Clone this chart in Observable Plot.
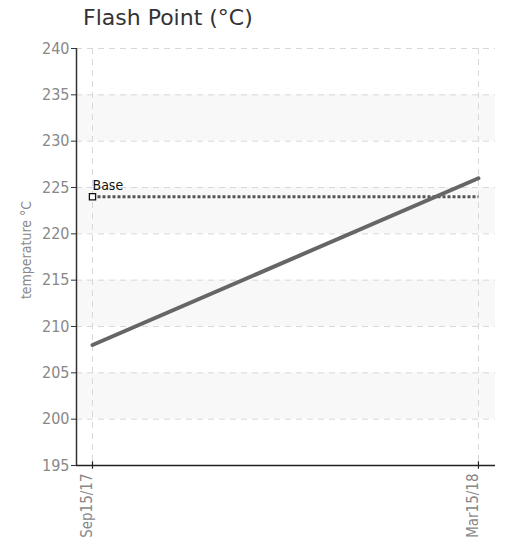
<!DOCTYPE html>
<html><head><meta charset="utf-8">
<script src="https://cdn.jsdelivr.net/npm/d3@7"></script>
<script src="https://cdn.jsdelivr.net/npm/@observablehq/plot@0.6"></script>
<style>
body{margin:0;background:#fff;}
#wrap{position:relative;width:508px;height:545px;}
#title{position:absolute;left:83px;top:5px;font-family:"DejaVu Sans",sans-serif;font-size:22px;color:#333;white-space:nowrap;}
svg text{font-family:"DejaVu Sans Condensed","DejaVu Sans",sans-serif;font-stretch:condensed;}
</style></head>
<body><div id="wrap"><div id="title">Flash Point (°C)</div></div>
<script>
const dates = ["2017-09-15","2018-03-15"];
const dateLabels = ["Sep15/17","Mar15/18"];
const values = [208, 226];
const baseValue = 224;
const baseLabel = "Base";
const yTicks = [195,200,205,210,215,220,225,230,235,240];
const bands = [[230,235],[220,225],[210,215],[200,205]];

const parse = d3.utcParse("%Y-%m-%d");
const xDates = dates.map(parse);
const series = xDates.map((d,i)=>({date:d, value:values[i]}));
const baseRows = xDates.map(d=>({date:d, value:baseValue}));
const bandRows = bands.map(([a,b])=>({y1:a,y2:b}));
const day = 864e5;
const x0 = new Date(xDates[0]-7.5*day), x1 = new Date(+xDates[1]+8*day);
const chart = Plot.plot({
  width:508, height:545,
  marginTop:48, marginBottom:80, marginLeft:76, marginRight:13,
  style:{background:"#fff"},
  x:{type:"utc", domain:[x0, x1], axis:null},
  y:{domain:[195,240], axis:null},
  marks:[
    Plot.rectY(bandRows,{y1:"y1",y2:"y2",fill:"#f8f8f8"}),
    Plot.gridY(yTicks,{stroke:"#d8d8d8",strokeOpacity:1,strokeDasharray:"6,5"}),
    Plot.gridX(xDates,{stroke:"#d8d8d8",strokeOpacity:1,strokeDasharray:"6,5"}),
    Plot.axisY(yTicks,{tickSize:5,stroke:"#333",fill:"#888",fontSize:16,tickPadding:2,label:null}),
    Plot.text(["temperature °C"],{frameAnchor:"left",textAnchor:"middle",dx:-50,dy:-7,rotate:-90,fill:"#888",fontSize:14}),
    Plot.ruleX([x0],{stroke:"#333",strokeWidth:1.5}),
    Plot.ruleY([195],{stroke:"#222",strokeWidth:1.5}),
    Plot.ruleX(xDates,{x:d=>d,y1:194.6,y2:195.4,stroke:"#222",strokeWidth:1.2}),
    Plot.text(xDates,{x:d=>d,text:(d,i)=>dateLabels[i],frameAnchor:"bottom",rotate:-90,textAnchor:"end",dy:8,fill:"#888",fontSize:15}),
    Plot.line(baseRows,{x:"date",y:"value",stroke:"#555",strokeWidth:3,strokeDasharray:"3,2",strokeLinecap:"butt"}),
    Plot.line(series,{x:"date",y:"value",stroke:"#666",strokeWidth:4}),
    Plot.dot([baseRows[0]],{x:"date",y:"value",symbol:"square",r:3.5,fill:"#fff",stroke:"#111",strokeWidth:1.3}),
    Plot.text([baseRows[0]],{x:"date",y:"value",text:()=>baseLabel,textAnchor:"start",dy:-11,fill:"#111",fontSize:14})
  ]
});
document.getElementById("wrap").prepend(chart);
</script></body></html>
